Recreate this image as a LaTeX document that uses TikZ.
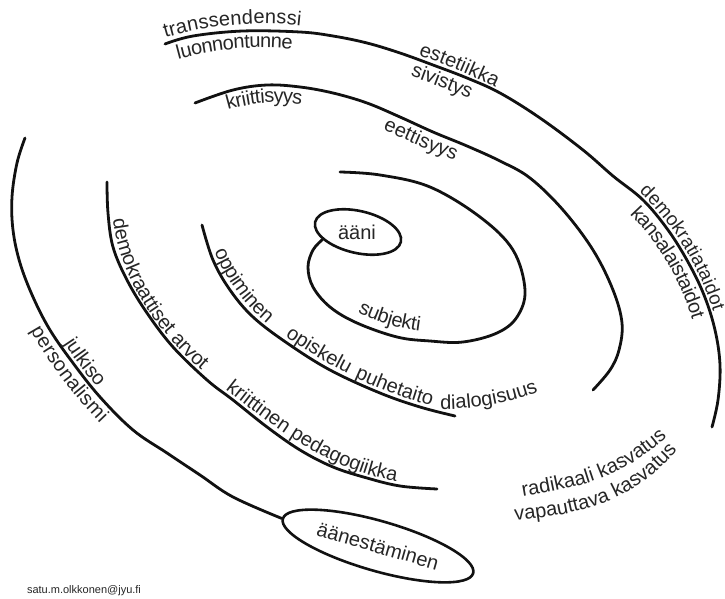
\documentclass[tikz,border=0pt]{standalone}
\usepackage{fontspec}
\setmainfont{Liberation Sans}
\usetikzlibrary{decorations.text,shapes.geometric}
\definecolor{ink}{HTML}{111111}
\definecolor{labink}{HTML}{262626}
\newcommand\labfont{\fontsize{20}{20}\selectfont}
\newcommand\labsmallfont{\fontsize{19}{19}\selectfont}

\begin{document}
\begin{tikzpicture}[x=1pt,y=-1pt,
  arc/.style={draw=ink,line width=2.8pt,line cap=round},
  ring/.style={draw=ink,line width=2.6pt,ellipse,inner sep=0pt},
  lab/.style 2 args={decorate,decoration={text along path,
      text={|\labfont\color{labink}|#1},text align=center,raise=#2}},
  labsmall/.style 2 args={decorate,decoration={text along path,
      text={|\labsmallfont\color{labink}|#1},text align=center,raise=#2}},
  sm/.style={smooth,tension=0.6}
]
\path[fill=white,use as bounding box] (0,0) rectangle (725,599);

% the two rings
\node[ring,minimum width=88pt,minimum height=42pt,rotate=-13] (aani) at (358,232) {};
\node[font=\labfont,text=labink] (aanitxt) at (357,232) {ääni};
\node[ring,minimum width=198pt,minimum height=50pt,rotate=-16,
      font=\labfont,text=labink] (vote) at (378,546) {äänestäminen};

% outer arc, top and right
\draw[arc] plot[sm] coordinates {(165,44) (193,36) (243,31) (300,32) (333,36)
  (367,43) (400,53) (433,65) (467,78) (500,93) (540,118) (583,150) (613,176)
  (643,200) (668,230) (688,262) (704,295) (715,330) (720,365) (718,400) (712,427)};

% second arc
\draw[arc] plot[sm] coordinates {(195,103) (233,90) (267,85) (300,87) (333,93)
  (367,103) (400,117) (433,132) (467,146) (500,161) (530,178) (563,210) (593,250)
  (613,290) (622,323) (619,350) (610,370) (593,390)};

% inner spiral ending in the small ring
\draw[arc] plot[sm] coordinates {(340,172) (380,175) (430,187) (480,217) (513,250)
  (525,290) (517,317) (497,333) (463,342) (430,341) (397,337) (357,323) (330,307)
  (313,287) (308,267) (313,250) (aani.205)};

% left arcs
\draw[arc] plot[sm] coordinates {(202,225) (213,260) (230,290) (253,317) (287,343)
  (330,370) (380,393) (420,407) (455,416)};
\draw[arc] plot[sm] coordinates {(107,182) (108,213) (113,247) (127,280) (147,313)
  (173,347) (207,380) (233,400) (267,427) (300,450) (333,467) (367,478) (400,486)
  (437,489)};
\draw[arc] plot[sm] coordinates {(25,138) (17,163) (12,197) (13,230) (20,263)
  (33,297) (50,330) (73,363) (100,397) (133,430) (167,453) (200,475) (233,497)
  (vote.west)};

% labels along the outer arc
\path[lab={transsendenssi}{6pt}] (150,49) .. controls (204.7,30) and (260.7,25) .. (318,34);
\path[lab={luonnontunne}{-18pt}] (150,49) .. controls (204.7,30) and (260.7,25) .. (318,34);
\path[lab={estetiikka}{4pt}] (400,53) .. controls (436.7,65) and (473.3,80.3) .. (510,99);
\path[lab={sivistys}{-18pt}] (395,51.5) .. controls (429,62.6) and (463,75.9) .. (497,91.5);
\path[labsmall={demokratiataidot}{4.5pt}] (601.9,166.4) .. controls (667.2,213.7) and (706.2,277.1) .. (718.8,356.4);
\path[lab={kansalaistaidot}{-18pt}] (606,170) .. controls (670.8,218) and (708.7,282) .. (719.6,362);

% labels along the second arc
\path[lab={kriittisyys}{-18pt}] (195,103) .. controls (241,82.3) and (287,79) .. (333,93);
\path[lab={eettisyys}{-18pt}] (367,103) .. controls (406.3,120.7) and (445.7,137.7) .. (485,154);

% spiral
\path[lab={subjekti}{9pt}] (326,304) .. controls (363,330) and (404.7,342.7) .. (451,342);

% fourth arc
\path[lab={oppiminen}{4pt}] (202,226) .. controls (215,276.3) and (243.3,315.3) .. (287,343);
\path[lab={opiskelu}{4pt}] (253,317) .. controls (290.7,347.7) and (333,373) .. (380,393);
\path[lab={puhetaito}{4pt}] (330,370) .. controls (369.7,390.7) and (411.3,406) .. (455,416);
\path[lab={dialogisuus}{0pt}] (430,409) .. controls (470.7,410.7) and (510,403.7) .. (548,388);

% fifth arc
\path[lab={demokraattiset arvot}{4pt}] (107.5,201) .. controls (109.7,275.5) and (155.1,340.2) .. (214,385.6);
\path[lab={kriittinen pedagogiikka}{4pt}] (211,383) .. controls (270.7,430.4) and (334.3,480.8) .. (410.6,487);

% outermost left arc
\path[lab={julkiso}{4pt}] (33,297) .. controls (57.7,347.3) and (91,391.7) .. (133,430);
\path[lab={personalismi}{-18pt}] (33,297) .. controls (57.7,347.3) and (91,391.7) .. (133,430);

% free-standing curved lines of text
\path[lab={radikaali kasvatus}{0pt}] (505,500) .. controls (583.8,486.4) and (624,480.8) .. (680,424);
\path[lab={vapauttava kasvatus}{0pt}] (495,523) .. controls (584.1,514) and (636,506) .. (690,434);

\node[font=\fontsize{11}{13}\selectfont,text=labink] (mail) at (84,591) {satu.m.olkkonen@jyu.fi};
\end{tikzpicture}
\end{document}
